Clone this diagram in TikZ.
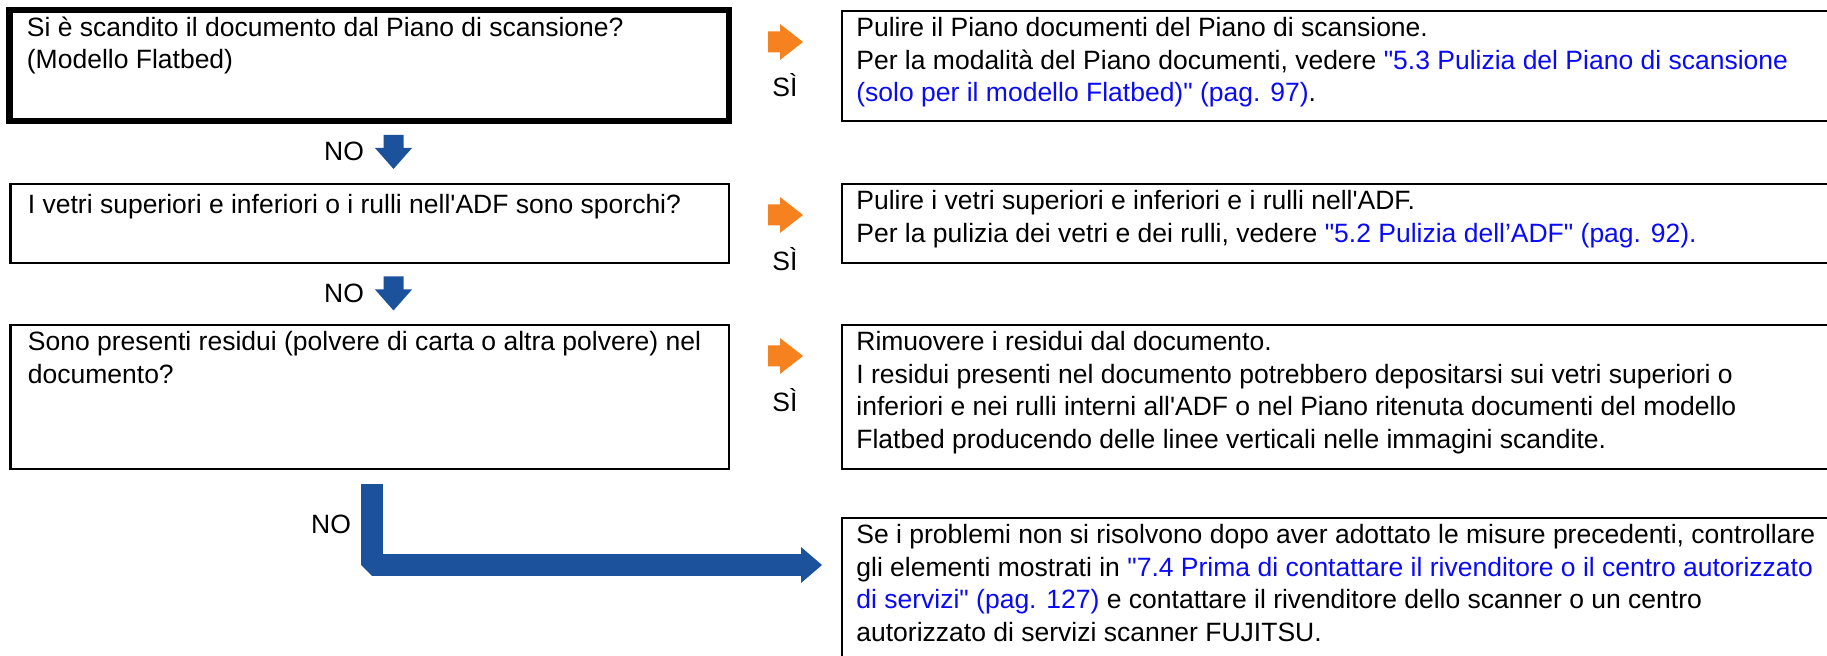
\documentclass[tikz,border=0pt]{standalone}
\usepackage{fontspec}
\setmainfont{Liberation Sans}[Ligatures=TeXOff]
\usetikzlibrary{calc}
\definecolor{yesorange}{RGB}{246,130,31}
\definecolor{noblue}{RGB}{28,82,155}
\definecolor{linkblue}{RGB}{10,10,245}
\newcommand{\lnk}[1]{\textcolor{linkblue}{#1}}

\begin{document}
\begin{tikzpicture}[x=0.5pt, y=-0.5pt,
  box/.style={draw, line width=1.2pt, inner sep=0pt, outer sep=0pt, anchor=north west},
  txt/.style={anchor=north west, inner xsep=7pt, inner ysep=3.1pt, align=left,
    font=\fontsize{13.25pt}{16.25pt}\selectfont, execute at begin node=\strut},
  lbl/.style={inner sep=0pt, font=\fontsize{13.25pt}{16.25pt}\selectfont},
  yesarrow/.pic={\fill[yesorange] (-17,-10.5) -- (-5,-10.5) -- (-5,-18) -- (18,0) -- (-5,18) -- (-5,10.5) -- (-17,10.5) -- cycle;},
  downarrow/.pic={\fill[noblue] (-10,-17) -- (10,-17) -- (10,-4) -- (18.5,-4) -- (0,17) -- (-18.5,-4) -- (-10,-4) -- cycle;}]

  \path[use as bounding box, clip] (0,0) rectangle (1827,656);

  \node[box, line width=3.25pt, minimum width=359.75pt, minimum height=55.5pt] (q1) at (9.5,10) {};
  \node[box, minimum width=359.25pt, minimum height=39.5pt] (q2) at (10.5,184) {};
  \node[box, minimum width=359.25pt, minimum height=72pt] (q3) at (10.5,325) {};
  \node[box, minimum width=494pt, minimum height=55pt] (a1) at (842,11) {};
  \node[box, minimum width=494pt, minimum height=39.5pt] (a2) at (842,184) {};
  \node[box, minimum width=494pt, minimum height=72pt] (a3) at (842,325) {};
  \node[box, minimum width=494pt, minimum height=71pt] (a4) at (842,518) {};

  \node[txt, inner xsep=8.5pt] (q1t) at (q1.north west) {Si è scandito il documento dal Piano di scansione?\\(Modello Flatbed)};
  \node[txt, inner xsep=8.5pt] (q2t) at (q2.north west) {I vetri superiori e inferiori o i rulli nell'ADF sono sporchi?};
  \node[txt, inner xsep=8.5pt] (q3t) at (q3.north west) {Sono presenti residui (polvere di carta o altra polvere) nel\\documento?};

  \node[txt] (a1t) at (a1.north west) {Pulire il Piano documenti del Piano di scansione.\\
    Per la modalità del Piano documenti, vedere \lnk{"5.3 Pulizia del Piano di scansione}\\
    \lnk{(solo per il modello Flatbed)" (pag. 97)}.};
  \node[txt] (a2t) at (a2.north west) {Pulire i vetri superiori e inferiori e i rulli nell'ADF.\\
    Per la pulizia dei vetri e dei rulli, vedere \lnk{"5.2 Pulizia dell’ADF" (pag. 92).}};
  \node[txt] (a3t) at (a3.north west) {Rimuovere i residui dal documento.\\
    I residui presenti nel documento potrebbero depositarsi sui vetri superiori o\\
    inferiori e nei rulli interni all'ADF o nel Piano ritenuta documenti del modello\\
    Flatbed producendo delle linee verticali nelle immagini scandite.};
  \node[txt] (a4t) at (a4.north west) {Se i problemi non si risolvono dopo aver adottato le misure precedenti, controllare\\
    gli elementi mostrati in \lnk{"7.4 Prima di contattare il rivenditore o il centro autorizzato}\\
    \lnk{di servizi" (pag. 127)} e contattare il rivenditore dello scanner o un centro\\
    autorizzato di servizi scanner FUJITSU.};

  \pic at (785,42) {yesarrow};
  \pic at (785,215) {yesarrow};
  \pic at (785,356) {yesarrow};
  \node[lbl] (yes1) at (785,85) {SÌ};
  \node[lbl] (yes2) at (785,259) {SÌ};
  \node[lbl] (yes3) at (785,400) {SÌ};

  \pic at (393.5,152) {downarrow};
  \pic at (393.5,293.5) {downarrow};
  \node[lbl] (no1) at (344,151) {NO};
  \node[lbl] (no2) at (344,293) {NO};

  \coordinate (nostart) at (372,484);
  \coordinate (notip) at (822,565);
  \draw[noblue, line width=11pt, line join=bevel] (nostart) |- ($(notip)+(-21,0)$);
  \fill[noblue] ($(notip)+(-21,-18)$) -- (notip) -- ($(notip)+(-21,18)$) -- cycle;
  \node[lbl] (no3) at (331,524) {NO};
\end{tikzpicture}
\end{document}
